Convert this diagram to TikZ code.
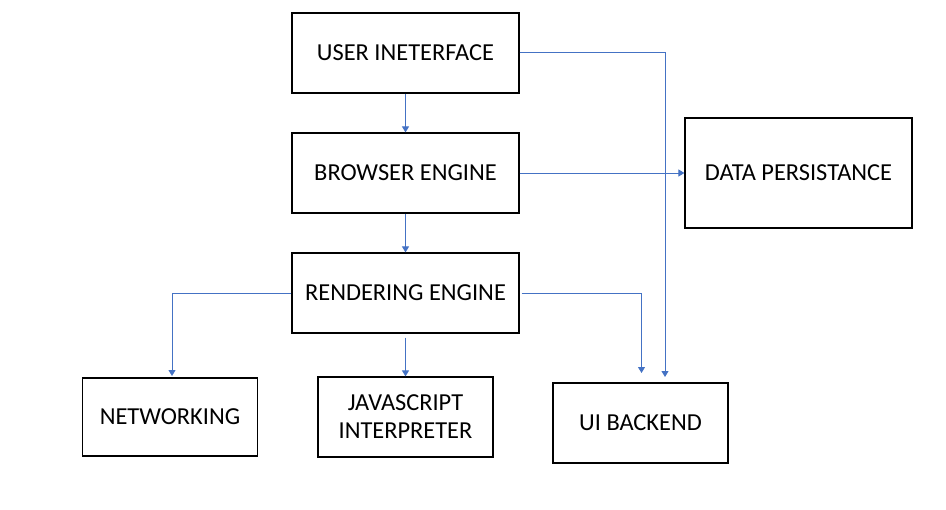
\documentclass[tikz,border=0pt]{standalone}
\usepackage{fontspec}
\setmainfont{Carlito}
\usetikzlibrary{arrows.meta}
\definecolor{conn}{HTML}{4472C4}
\begin{document}
\begin{tikzpicture}[x=0.75pt,y=-0.75pt,
  box/.style={draw=black,line width=0.9pt,inner sep=0pt,align=center,font=\fontsize{18.3}{22}\selectfont},
  wide/.style={box,minimum width=170.25pt,minimum height=60pt},
  narrow/.style={box,minimum width=131.25pt,minimum height=60pt},
  link/.style={draw=conn,line width=0.75pt,-{Triangle[width=5.25pt,length=4.5pt]}}]
\useasboundingbox (0,0) rectangle (946,510);
\node[wide] (ui) at (405.5,53) {USER INETERFACE};
\node[wide] (be) at (405.5,173) {BROWSER ENGINE};
\node[wide] (re) at (405.5,293) {RENDERING ENGINE};
\node[box,minimum width=170.25pt,minimum height=82.5pt] (dp) at (798.5,173) {DATA PERSISTANCE};
\node[narrow,minimum height=58.5pt] (nw) at (170,417) {NETWORKING};
\node[narrow] (js) at (405.5,417) {JAVASCRIPT\\[-1pt]INTERPRETER};
\node[narrow] (ub) at (640.5,423) {UI BACKEND};
\coordinate (nwin) at (172,376);
\coordinate (ubin1) at (641.5,373);
\coordinate (ubin2) at (665,377);
\draw[link] (ui.south) -- (be.north);
\draw[link] (be.south) -- (re.north);
\draw[link] ([yshift=-3pt]re.south) -- (js.north);
\draw[link] (re.west) -| (nwin);
\draw[link] ([xshift=1.5pt]re.east) -| (ubin1);
\draw[link] (ui.east) -| (ubin2);
\draw[link] (be.east) -- (dp.west);
\end{tikzpicture}
\end{document}
